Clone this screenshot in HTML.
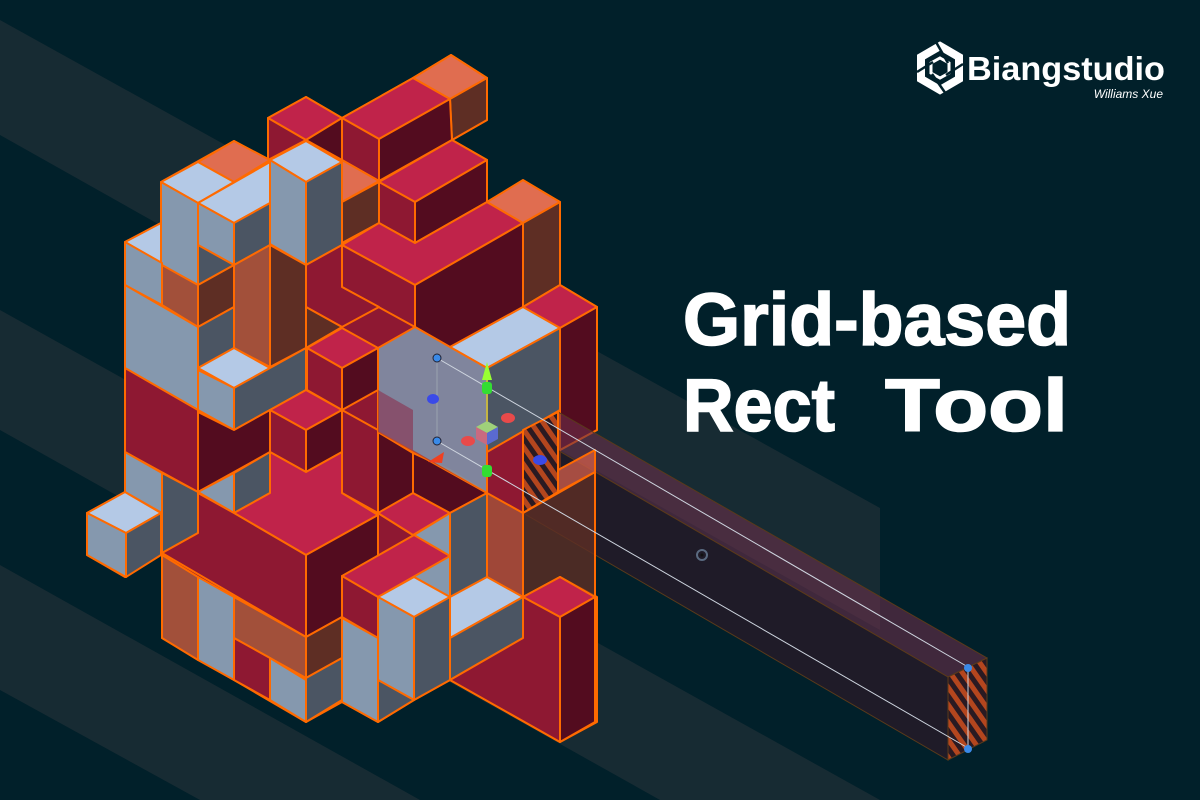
<!DOCTYPE html>
<html><head><meta charset="utf-8"><style>
html,body{margin:0;padding:0;background:#01202a;}
svg{display:block}
.RT{fill:#c0234a}.RL{fill:#8e1832}.RR{fill:#530c1f}
.BT{fill:#b4c9e6}.BL{fill:#8598ae}.BR{fill:#4b5563}
.OT{fill:#e06d50}.OL{fill:#a2503a}.OR{fill:#5e2e24}
g.c polygon{stroke:#ff6a00;stroke-width:2;stroke-linejoin:round}
</style></head><body>
<svg width="1200" height="800" viewBox="0 0 1200 800" xmlns="http://www.w3.org/2000/svg">
<defs>
<pattern id="hatch" patternUnits="userSpaceOnUse" width="10" height="10" patternTransform="rotate(-35)">
<rect width="10" height="10" fill="#2a1a22"/><rect width="5" height="10" fill="#b4461e"/>
</pattern>
</defs>
<rect width="1200" height="800" fill="#01202a"/>
<polygon points="0,20 880,508 880,630 0,135" fill="#172b33"/>
<polygon points="0,310 880,800 0,800" fill="#172b33"/>
<polygon points="0,430 660,800 0,800" fill="#01202a"/>
<polygon points="0,565 420,800 0,800" fill="#172b33"/>
<polygon points="0,690 200,800 0,800" fill="#01202a"/>

<g class="c">
<polygon class="RL" points="125,242 161,223 161,182 234,141 268,160 268,118 306,97 342,118 413,78 451,55 487,78 487,120 452,140 487,160 487,202 523,181 560,202 560,285 597,307 597,430 560,450 560,470 523,490 523,597 560,577 597,597 597,722 560,742 450,680 414,700 378,722 342,702 306,722 162,638 162,553 125,577 87,555 87,513 125,492"/>
<polygon class="OT" points="413,78 451,55 487,78 450,99"/>
<polygon class="OR" points="450,99 487,78 487,120 452,140"/>
<polygon class="RT" points="342,118 413,78 450,99 379,139"/>
<polygon class="RL" points="342,118 379,139 379,181 342,160"/>
<polygon class="RR" points="379,139 450,99 452,140 379,181"/>
<polygon class="RT" points="268,118 306,97 342,118 306,140"/>
<polygon class="RL" points="268,118 306,140 268,160"/>
<polygon class="RR" points="306,140 342,118 342,160"/>
<polygon class="OT" points="342,160 379,181 342,202"/>
<polygon class="OR" points="342,202 379,182 379,223 342,243"/>
<polygon class="RT" points="379,182 452,140 487,160 415,202"/>
<polygon class="RL" points="379,182 415,202 415,243 379,223"/>
<polygon class="RR" points="415,202 487,160 487,202 415,243"/>
<polygon class="RT" points="342,245 379,223 415,243 487,202 523,223 415,285"/>
<polygon class="RL" points="342,245 415,285 415,327 342,287"/>
<polygon class="RR" points="415,285 523,223 523,307 450,347 415,327"/>
<polygon class="OT" points="487,202 523,180 560,202 523,223"/>
<polygon class="OR" points="523,223 560,202 560,285 523,307"/>
<polygon class="RT" points="523,307 560,285 597,307 560,328"/>
<polygon class="RR" points="560,328 597,307 597,430 560,450"/>
<polygon class="BT" points="450,347 523,307 560,328 487,368"/>
<polygon class="BR" points="487,368 560,328 560,410 487,452"/>
<polygon class="OT" points="198,162 234,141 270,160 234,182"/>
<polygon class="BT" points="270,160 306,141 342,162 306,182"/>
<polygon class="BL" points="270,160 306,182 306,265 270,244"/>
<polygon class="BR" points="306,182 342,162 342,245 306,265"/>
<polygon class="RL" points="306,265 342,245 342,287 379,307 342,327 306,307"/>
<polygon class="OR" points="306,307 342,327 306,348"/>
<polygon class="BT" points="161,182 198,162 234,182 198,203"/>
<polygon class="BL" points="161,182 198,203 198,285 161,265"/>
<polygon class="BT" points="198,203 270,162 270,203 234,223"/>
<polygon class="BL" points="198,203 234,223 234,265 198,245"/>
<polygon class="BR" points="234,223 270,203 270,245 234,265"/>
<polygon class="BR" points="198,245 234,265 198,285"/>
<polygon class="BT" points="125,242 161,223 161,263"/>
<polygon class="BL" points="125,242 162,263 162,305 125,285"/>
<polygon class="OL" points="162,265 198,285 198,327 162,305"/>
<polygon class="OR" points="198,285 234,265 234,307 198,327"/>
<polygon class="BL" points="125,285 198,327 198,410 125,368"/>
<polygon class="BR" points="198,327 234,307 234,348 198,368"/>
<polygon class="OL" points="234,265 270,245 270,367 234,348"/>
<polygon class="OR" points="270,245 306,265 306,348 270,367"/>
<polygon class="BT" points="198,368 234,348 270,368 234,388"/>
<polygon class="BL" points="198,370 234,388 234,430 198,410"/>
<polygon class="BR" points="234,388 306,348 306,390 234,430"/>
<polygon class="RT" points="307,348 342,328 378,348 342,368"/>
<polygon class="RL" points="307,348 342,368 342,410 307,390"/>
<polygon class="RR" points="342,368 378,348 378,390 342,410"/>
<polygon class="RL" points="125,368 198,410 198,492 125,452"/>
<polygon class="RR" points="198,412 234,430 270,410 270,452 198,492"/>
<polygon class="RT" points="270,410 306,390 342,410 306,430"/>
<polygon class="RL" points="270,410 306,430 306,472 270,452"/>
<polygon class="RR" points="306,430 342,410 342,452 306,472"/>
<polygon class="RL" points="342,410 378,430 378,513 342,493"/>
<polygon class="RR" points="378,432 413,453 413,535 378,513"/>
<polygon class="RT" points="413,493 450,513 413,535 378,513"/>
<polygon class="RR" points="413,453 450,470 487,493 450,513 413,493"/>
<polygon points="378,348 415,327 450,347 487,368 487,493 378,432" fill="#7f8fa6" fill-opacity="0.92" style="stroke:#ff6a00"/>
<polygon points="378,390 413,410 413,450 487,493 378,432" fill="#8a2e4c" fill-opacity="0.6" style="stroke:none"/>
<polygon class="BL" points="198,492 234,513 234,473"/>
<polygon class="BR" points="234,473 270,452 270,493 234,513"/>
<polygon class="BL" points="125,452 162,473 162,513 125,492"/>
<polygon class="BR" points="162,473 198,492 198,533 162,553"/>
<polygon class="BT" points="87,513 125,492 161,513 126,533"/>
<polygon class="BL" points="87,513 126,533 126,577 87,555"/>
<polygon class="BR" points="126,533 161,513 161,555 126,577"/>
<polygon class="RT" points="234,513 270,493 270,452 306,472 342,452 342,493 378,515 306,555"/>
<polygon class="RL" points="198,493 234,513 306,555 306,637 162,553 198,533"/>
<polygon class="RR" points="306,555 378,515 378,597 306,637"/>
<polygon class="OL" points="162,555 198,577 198,660 162,638"/>
<polygon class="BL" points="198,577 234,597 234,680 198,660"/>
<polygon class="OL" points="234,597 306,637 306,678 234,638"/>
<polygon class="RL" points="234,638 270,658 270,700 234,680"/>
<polygon class="BL" points="270,658 306,680 306,722 270,700"/>
<polygon class="OR" points="306,637 342,617 342,658 306,678"/>
<polygon class="BR" points="306,678 342,658 342,700 306,722"/>
</g>

<polygon points="523,430 558,412 987,658 948,677" fill="#6a2f4a" fill-opacity="0.6" stroke="#5a3a1a" stroke-width="1"/>
<polygon points="523,430 948,677 948,760 523,513" fill="#2a1a28" fill-opacity="0.75" stroke="#5a3a1a" stroke-width="1"/>
<polygon points="948,677 987,658 987,740 948,760" fill="url(#hatch)" stroke="#5a3a1a" stroke-width="1"/>

<g class="c">
<polygon points="523,430 558,412 558,492 523,513" fill="url(#hatch)"/>
<polygon class="BL" points="414,535 450,513 450,597 414,577"/>
<polygon class="BR" points="450,513 487,493 487,577 450,597"/>
<polygon class="OL" points="487,493 523,513 523,597 487,577" fill-opacity="0.85"/>
<polygon class="OR" points="523,513 560,492 595,472 595,597 560,577 523,597" fill-opacity="0.8"/>
<polygon points="558,470 595,450 595,472 558,492" fill="#c85a48" fill-opacity="0.8"/>
<polygon class="RT" points="342,576 414,535 450,556 378,597"/>
<polygon class="RL" points="342,576 378,597 378,638 342,617"/>
<polygon class="BL" points="342,618 378,638 378,722 342,702"/>
<polygon class="BT" points="378,597 414,577 450,597 414,617"/>
<polygon class="BL" points="378,597 414,617 414,700 378,680"/>
<polygon class="BR" points="414,617 450,597 450,680 414,700"/>
<polygon class="BR" points="378,680 414,700 378,722"/>
<polygon class="BT" points="450,597 487,577 523,597 450,638"/>
<polygon class="BR" points="450,638 523,597 523,638 450,680"/>
<polygon class="RT" points="523,597 560,577 595,597 560,617"/>
<polygon class="RL" points="450,680 523,638 523,597 560,617 560,742"/>
<polygon class="RR" points="560,617 595,597 595,722 560,742"/>
</g>

<line x1="437" y1="358" x2="968" y2="667" stroke="#cfd6e0" stroke-width="1"/>
<line x1="437" y1="441" x2="968" y2="748" stroke="#cfd6e0" stroke-width="1"/>
<line x1="437" y1="358" x2="437" y2="441" stroke="#9aa4b0" stroke-width="1"/>
<line x1="968" y1="667" x2="968" y2="748" stroke="#cfd6e0" stroke-width="1"/>
<circle cx="437" cy="358" r="4" fill="#3a8ae8" stroke="#223" stroke-width="1"/>
<circle cx="437" cy="441" r="4" fill="#3a8ae8" stroke="#223" stroke-width="1"/>
<circle cx="968" cy="668" r="4" fill="#3a8ae8"/>
<circle cx="968" cy="749" r="4" fill="#3a8ae8"/>
<circle cx="702" cy="555" r="5" fill="none" stroke="#5a6a80" stroke-width="2"/>
<circle cx="702" cy="555" r="1.5" fill="#111"/>
<line x1="487" y1="430" x2="487" y2="372" stroke="#8f8" stroke-width="1"/>
<polygon points="482,380 487,362 492,380" fill="#9f3"/>
<rect x="482" y="382" width="10" height="12" rx="3" fill="#3d3"/>
<rect x="482" y="465" width="10" height="12" rx="3" fill="#3d3"/>
<polygon points="476,427 487,421 498,427 487,433" fill="#9fd07a"/>
<polygon points="476,427 487,433 487,445 476,439" fill="#c96a80"/>
<polygon points="487,433 498,427 498,439 487,445" fill="#5a6ad0"/>
<ellipse cx="508" cy="418" rx="7" ry="5" fill="#e84a4a"/>
<ellipse cx="468" cy="441" rx="7" ry="5" fill="#e84a4a"/>
<polygon points="428,462 444,452 442,463" fill="#f04020"/>
<ellipse cx="433" cy="399" rx="6" ry="5" fill="#3a4ae8"/>
<ellipse cx="540" cy="460" rx="7" ry="5" fill="#3a4ae8"/>

<text x="683" y="345" font-family="Liberation Sans, Arial, sans-serif" font-weight="bold" font-size="74" fill="#fff" stroke="#fff" stroke-width="1.6" textLength="388" lengthAdjust="spacingAndGlyphs">Grid-based</text>
<text x="683" y="431" font-family="Liberation Sans, Arial, sans-serif" font-weight="bold" font-size="74" fill="#fff" stroke="#fff" stroke-width="1.6" textLength="152" lengthAdjust="spacingAndGlyphs">Rect</text>
<text x="885" y="431" font-family="Liberation Sans, Arial, sans-serif" font-weight="bold" font-size="74" fill="#fff" stroke="#fff" stroke-width="1.6" textLength="183" lengthAdjust="spacingAndGlyphs">Tool</text>

<g transform="translate(940,68)">
<polygon points="0,-22 19,-11 19,11 0,22 -19,11 -19,-11" fill="none" stroke="#fff" stroke-width="8"/>
<polygon points="0,-10 9,-5 9,5 0,10 -9,5 -9,-5" fill="none" stroke="#fff" stroke-width="3"/>
<line x1="-4" y1="-26" x2="8" y2="-5" stroke="#01202a" stroke-width="2.5"/>
<line x1="23" y1="-4" x2="6" y2="7" stroke="#01202a" stroke-width="2.5"/>
<line x1="6" y1="26" x2="-8" y2="6" stroke="#01202a" stroke-width="2.5"/>
<line x1="-23" y1="4" x2="-7" y2="-6" stroke="#01202a" stroke-width="2.5"/>
</g>
<text x="967" y="80" font-family="Liberation Sans, Arial, sans-serif" font-weight="bold" font-size="33" fill="#fff" textLength="198" lengthAdjust="spacingAndGlyphs">Biangstudio</text>
<text x="1163" y="98" text-anchor="end" font-family="Liberation Sans, Arial, sans-serif" font-style="italic" font-size="12" fill="#fff">Williams Xue</text>
</svg>
</body></html>
